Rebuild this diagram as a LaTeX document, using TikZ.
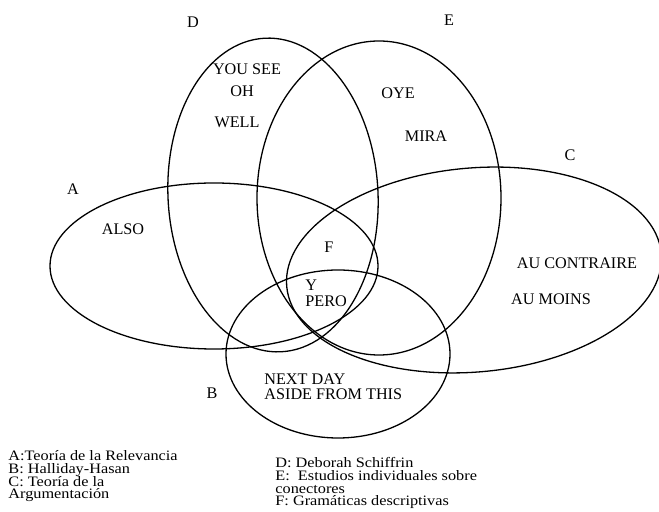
\documentclass[tikz,border=0pt]{standalone}
\usepackage{fontspec}
\setmainfont{Liberation Serif}
\newfontfamily\keyfont[FakeStretch=1.13]{Liberation Serif}
\usepackage{tikz}
\usetikzlibrary{positioning}
\setlength{\lineskiplimit}{-20pt}
\tikzset{
  ring/.style={draw=black, line width=0.65pt},
  tag/.style={font=\fontsize{8.1}{9}\selectfont, inner sep=0pt},
  word/.style={font=\fontsize{8.1}{9}\selectfont, inner sep=0pt},
  key/.style={font=\keyfont\fontsize{7.2}{6.4}\selectfont, inner sep=0pt,
    anchor=north west, align=left},
}

\begin{document}
\begin{tikzpicture}[x=0.5pt, y=-0.5pt]
  \useasboundingbox (0,0) rectangle (659,512);
  % centres of the sets
  \coordinate (cA) at (214,266);
  \coordinate (cB) at (338,354);
  \coordinate (cC) at (474,270);
  \coordinate (cD) at (273,195);
  \coordinate (cE) at (379,198);
  \draw[ring] (cA) ellipse [x radius=164, y radius=83];
  \draw[ring] (cB) ellipse [x radius=112, y radius=84];
  \draw[ring, rotate around={5:(cC)}] (cC) ellipse [x radius=188, y radius=102];
  \draw[ring, rotate around={3:(cD)}] (cD) ellipse [x radius=105, y radius=157];
  \draw[ring] (cE) ellipse [x radius=122, y radius=157];
  % set letters
  \foreach \nm/\x/\y in {A/73/189, B/212/393, C/570/155, D/193/22, E/449/20, F/329/247} {
    \node[tag] (t\nm) at (\x,\y) {\nm};
  }
  % connectors inside the sets
  \foreach \nm/\x/\y/\txt in {wYou/247/69/YOU SEE, wOh/242/91/OH, wWell/237/122/WELL,
      wOye/398/93/OYE, wMira/426/136/MIRA, wAlso/123/229/ALSO,
      wContr/577/263/AU CONTRAIRE, wMoins/551/299/AU MOINS} {
    \node[word] (\nm) at (\x,\y) {\txt};
  }
  \node[word, anchor=west] (wY) at (305,285) {Y};
  \node[word, anchor=west] (wPero) at (305,301) {PERO};
  \node[word, anchor=west] (wNext) at (264,379) {NEXT DAY};
  \node[word, anchor=west] (wAside) at (264,394) {ASIDE FROM THIS};
  % legend
  \node[key] (keyL) at (8,450) {A:Teoría de la Relevancia\\B: Halliday-Hasan\\C: Teoría de la\\Argumentación};
  \node[key] (keyR) at (275,457) {D: Deborah Schiffrin\\E:\ \ Estudios individuales sobre\\conectores\\F: Gramáticas descriptivas};
\end{tikzpicture}
\end{document}
